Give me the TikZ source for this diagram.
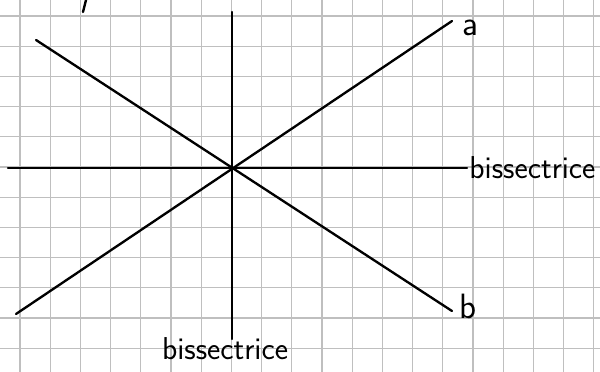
\documentclass[tikz,border=0pt]{standalone}
\usepackage{tikz}
\usetikzlibrary{positioning, calc}

\begin{document}
\begin{tikzpicture}[
x=0.03cm, y=-0.03cm,
    gridline/.style={draw=black!25, line width=1pt},
    axis/.style={draw, line width=2pt, line cap=round},
    textlabel/.style={font=\fontsize{27}{29}\selectfont\sffamily, inner sep=1pt},
    letterlabel/.style={font=\fontsize{30}{32}\selectfont\sffamily, inner sep=1pt}
]

    % --- Paper and grid ---
    \useasboundingbox (0,0) rectangle (600,372);
    \fill[white] (0,0) rectangle (600,372);
    \foreach \i in {0,...,19} {
        \draw[gridline] (20+30.2*\i, 0) -- (20+30.2*\i, 372);
    }
    \foreach \j in {0,...,11} {
        \draw[gridline] (0, 16+30.2*\j) -- (600, 16+30.2*\j);
    }

    % --- Centre and end points ---
    \coordinate (O) at (232, 168);
    \coordinate (top) at (232, 12);
    \coordinate (bottom) at (232, 339);
    \coordinate (left) at (8, 168);
    \coordinate (right) at (467, 168);
    \coordinate (aend) at (452, 21);
    \coordinate (astart) at (16, 314);
    \coordinate (bstart) at (36, 40);
    \coordinate (bend) at (452, 311);

    % --- Lines ---
    \draw[axis] (top) -- (bottom);
    \draw[axis] (left) -- (right);
    \draw[axis] (astart) -- (aend);
    \draw[axis] (bstart) -- (bend);

    % stray mark at the top edge
    \coordinate (tick1) at (86, 0);
    \coordinate (tick2) at (83, 12);
    \draw[axis] (tick1) -- (tick2);

    % --- Labels ---
    \node[letterlabel, anchor=west] (alabel) at (461, 28) {a};
    \node[letterlabel, anchor=west] (blabel) at (458, 306) {b};
    \node[textlabel, anchor=west] (bisright) at (468, 168) {bissectrice};
    \node[textlabel, anchor=north] (bisbottom) at (225, 336) {bissectrice};

\end{tikzpicture}
\end{document}
